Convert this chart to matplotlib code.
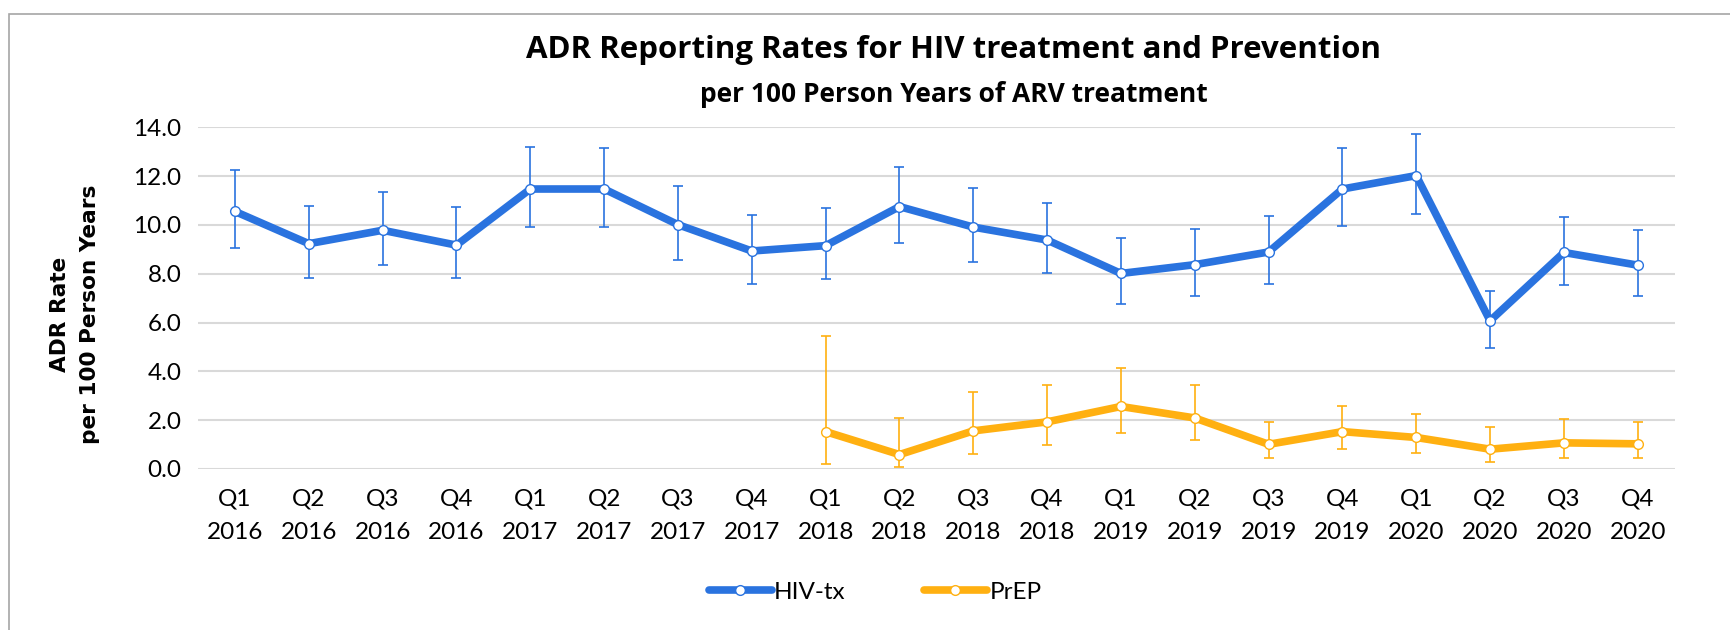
import matplotlib.pyplot as plt
from matplotlib.patches import Rectangle

quarters = ["Q1", "Q2", "Q3", "Q4"]
years = ["2016", "2017", "2018", "2019", "2020"]
labels = [q + "\n" + y for y in years for q in quarters]

hiv = [10.55, 9.23, 9.78, 9.17, 11.47, 11.47, 10.01, 8.93, 9.15, 10.75,
       9.91, 9.38, 8.01, 8.37, 8.89, 11.47, 12.02, 6.07, 8.87, 8.35]
hiv_hi = [12.24, 10.79, 11.36, 10.73, 13.21, 13.17, 11.59, 10.42, 10.68, 12.39,
          11.50, 10.91, 9.45, 9.82, 10.38, 13.13, 13.74, 7.30, 10.34, 9.80]
hiv_lo = [9.05, 7.83, 8.35, 7.81, 9.93, 9.93, 8.57, 7.57, 7.77, 9.26,
          8.49, 8.01, 6.74, 7.07, 7.56, 9.94, 10.45, 4.96, 7.52, 7.07]

# PrEP starts at Q1 2018
prep_start = 8
prep = [1.53, 0.59, 1.56, 1.93, 2.56, 2.09, 1.01, 1.53, 1.29, 0.81, 1.07, 1.03]
prep_hi = [5.43, 2.09, 3.17, 3.43, 4.12, 3.42, 1.94, 2.58, 2.26, 1.71, 2.05, 1.94]
prep_lo = [0.19, 0.10, 0.63, 0.97, 1.46, 1.18, 0.44, 0.82, 0.64, 0.30, 0.47, 0.44]

blue = "#2A73DF"
orange = "#FFB011"

fig = plt.figure(figsize=(17.3, 6.3), dpi=100)
ax = fig.add_axes([0.1145, 0.2556, 0.8535, 0.5424])

# chart frame
fig.patches.append(Rectangle((9 / 1730, -0.1), 1.2, 1.1 - 14 / 630,
                             transform=fig.transFigure, fill=False,
                             edgecolor="#A6A6A6", lw=1.2))


def draw(xs, ys, lo, hi, color, name):
    err = [[y - l for y, l in zip(ys, lo)], [h - y for y, h in zip(ys, hi)]]
    ax.errorbar(xs, ys, yerr=err, fmt="none", ecolor=color, elinewidth=1.2,
                capsize=3.5, capthick=1.2, zorder=3, clip_on=False)
    ax.plot(xs, ys, color=color, lw=5.5, marker="o", ms=7,
            markerfacecolor="white", markeredgecolor=color, markeredgewidth=1,
            solid_capstyle="round", zorder=4, clip_on=False, label=name)


draw(list(range(len(hiv))), hiv, hiv_lo, hiv_hi, blue, "HIV-tx")
draw(list(range(prep_start, prep_start + len(prep))), prep, prep_lo, prep_hi,
     orange, "PrEP")

ax.set_xlim(-0.5, 19.5)
ax.set_ylim(0, 14)
ax.set_yticks([0, 2, 4, 6, 8, 10, 12, 14])
ax.set_yticklabels([f"{v:.1f}" for v in ax.get_yticks()], fontsize=17.5,
                   family="Lato")
ax.set_xticks(range(len(labels)))
ax.set_xticklabels(labels, fontsize=17.5, family="Lato", linespacing=1.75)
ax.tick_params(axis="y", length=0, pad=12)
ax.tick_params(axis="x", length=0, pad=14)
ax.grid(axis="y", color="#D9D9D9", lw=1.5)
ax.set_axisbelow(True)
for s in ax.spines.values():
    s.set_visible(False)

fig.text(75 / 1730, 1 - 314 / 630, "ADR Rate\nper 100 Person Years", rotation=90,
         ha="center", va="center", fontsize=15.6, family="DejaVu Sans",
         fontweight="bold", linespacing=1.65)

fig.text(954 / 1730, 1 - 50 / 630, "ADR Reporting Rates for HIV treatment and Prevention",
         ha="center", va="center", fontsize=22.5, family="Open Sans", fontweight="bold")
fig.text(954 / 1730, 1 - 94 / 630, "per 100 Person Years of ARV treatment",
         ha="center", va="center", fontsize=19, family="Open Sans", fontweight="bold")

fig.legend(loc="center", bbox_to_anchor=(875 / 1730, 1 - 592 / 630), ncol=2,
           frameon=False, prop={"family": "Lato", "size": 17.5},
           handlelength=2.6, handletextpad=0.1, columnspacing=3.2)

fig.savefig("out.png", dpi=100)
